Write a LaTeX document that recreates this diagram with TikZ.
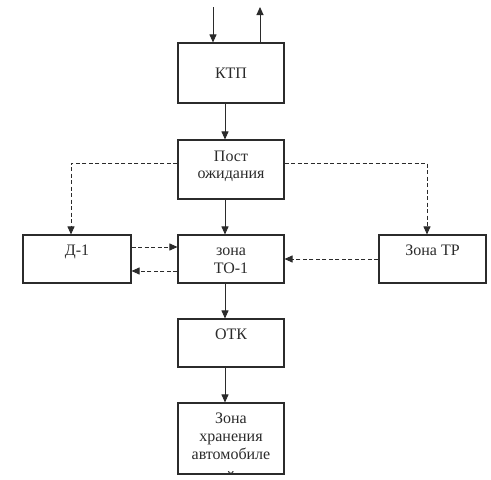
\documentclass[tikz,border=0pt]{standalone}
\usepackage{fontspec}
\setmainfont{Liberation Serif}
\usetikzlibrary{arrows.meta}
\definecolor{ink}{HTML}{2B2B2B}
\begin{document}
\begin{tikzpicture}[x=1pt,y=-1pt,
  box/.style={draw=ink,line width=1.1pt,rectangle,inner sep=0pt,fill=none},
  txt/.style={anchor=base,inner sep=0pt,text=ink,font=\fontsize{16}{19}\selectfont},
  arr/.style={draw=ink,line width=0.9pt,-{Triangle[length=8pt,width=7pt]}},
  darr/.style={arr,dash pattern=on 4pt off 2.5pt}]
\useasboundingbox (0,0) rectangle (491,480);
\fill[white] (0,0) rectangle (491,480);
% boxes
\node[box,minimum width=106pt,minimum height=60pt] (ktp) at (231,73) {};
\node[box,minimum width=106pt,minimum height=59pt] (post) at (231,169.5) {};
\node[box,minimum width=108pt,minimum height=48pt] (d1) at (77,259) {};
\node[box,minimum width=106pt,minimum height=48pt] (to1) at (231,259) {};
\node[box,minimum width=107pt,minimum height=48pt] (tr) at (432.5,259) {};
\node[box,minimum width=106pt,minimum height=48pt] (otk) at (231,343) {};
% storage zone text, clipped by its box
\begin{scope}
\clip (178,403) rectangle (284,474);
\node[txt] (z1) at (231,423) {Зона};
\node[txt] (z2) at (231,441) {хранения};
\node[txt] (z3) at (231,459) {автомобиле};
\node[txt] (z4) at (231,482) {й};
\end{scope}
\node[box,minimum width=106pt,minimum height=71pt] (zh) at (231,438.5) {};
% texts
\node[txt] (tktp) at (231,78) {КТП};
\node[txt] (tp1) at (231,161) {Пост};
\node[txt] (tp2) at (231,178) {ожидания};
\node[txt] (td1) at (77,255) {Д-1};
\node[txt] (tz1) at (231,255) {зона};
\node[txt] (tz2) at (231,273) {ТО-1};
\node[txt] (ttr) at (432.5,255) {Зона ТР};
\node[txt] (totk) at (231,339) {ОТК};
% helper coordinates
\coordinate (inTop) at (213,7);
\coordinate (outTop) at (260,7);
\coordinate (cx) at (225,0);
% top in/out arrows
\draw[arr] (inTop) -- (ktp.north -| inTop);
\draw[arr] (ktp.north -| outTop) -- (outTop);
% main vertical flow
\draw[arr] (ktp.south -| cx) -- (post.north -| cx);
\draw[arr] (post.south -| cx) -- (to1.north -| cx);
\draw[arr] (to1.south -| cx) -- (otk.north -| cx);
\draw[arr] (otk.south -| cx) -- (zh.north -| cx);
% dashed branches
\draw[darr] (post.west |- 0,163) -| (d1.north -| 71,0);
\draw[darr] (post.east |- 0,163) -| (tr.north -| 427,0);
\draw[darr] (d1.east |- 0,247) -- (to1.west |- 0,247);
\draw[darr] (to1.west |- 0,271) -- (d1.east |- 0,271);
\draw[darr] (tr.west |- 0,259) -- (to1.east |- 0,259);
\end{tikzpicture}
\end{document}
